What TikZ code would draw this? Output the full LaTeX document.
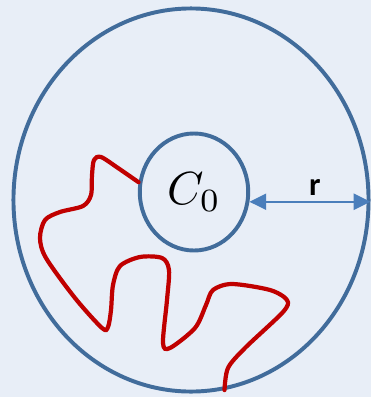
\documentclass[tikz,border=0pt]{standalone}
\usepackage{fontspec}
\usepackage{amsmath}
\usepackage{graphicx}
\usetikzlibrary{shapes.geometric, arrows.meta, positioning}
\definecolor{bgblue}{RGB}{232, 238, 247}
\definecolor{ringblue}{RGB}{65, 108, 155}
\definecolor{gaugeblue}{RGB}{74, 126, 187}
\definecolor{walkred}{RGB}{192, 0, 0}
\newfontfamily\labelfont{Carlito}

\begin{document}
\begin{tikzpicture}[
  x=0.025cm, y=-0.025cm,
  ring/.style={draw=ringblue, ellipse, line width=2.8pt, inner sep=0pt},
  gauge/.style={draw=gaugeblue, line width=1.6pt, {Triangle[length=0.42cm, width=0.4cm]}-{Triangle[length=0.42cm, width=0.4cm]}},
  walk/.style={draw=walkred, line width=3pt, line cap=round}
]
  \fill[bgblue] (0,0) rectangle (371,397);
  \useasboundingbox (0,0) rectangle (371,397);

  \node[ring, minimum width=8.875cm, minimum height=9.575cm] (outer) at (191,200) {};
  \node[ring, minimum width=2.71cm, minimum height=2.925cm] (c0) at (194,192) {\raisebox{-5pt}{\scalebox{3.3}{$C_0$}}};

  \draw[gauge] (c0.-10) -- (c0.-10 -| outer.east)
    node[pos=0.54, above, font=\labelfont\bfseries\fontsize{23}{26}\selectfont] (rlabel) {r};

  \draw[walk] plot[smooth, tension=0.5] coordinates {
    (c0.170) (118,168) (101,157) (94,160) (92,175) (91,195) (83,206)
    (60,212) (45,220) (40,238) (46,258) (75,298) (102,328) (108,327)
    (111,310) (113,285) (120,266) (140,257) (162,258) (169,270) (167,300)
    (163,343) (170,348) (195,328) (206,305) (213,290) (232,284) (270,290)
    (287,300) (283,312) (245,348) (228,368) (outer.-80)
  };
\end{tikzpicture}
\end{document}
